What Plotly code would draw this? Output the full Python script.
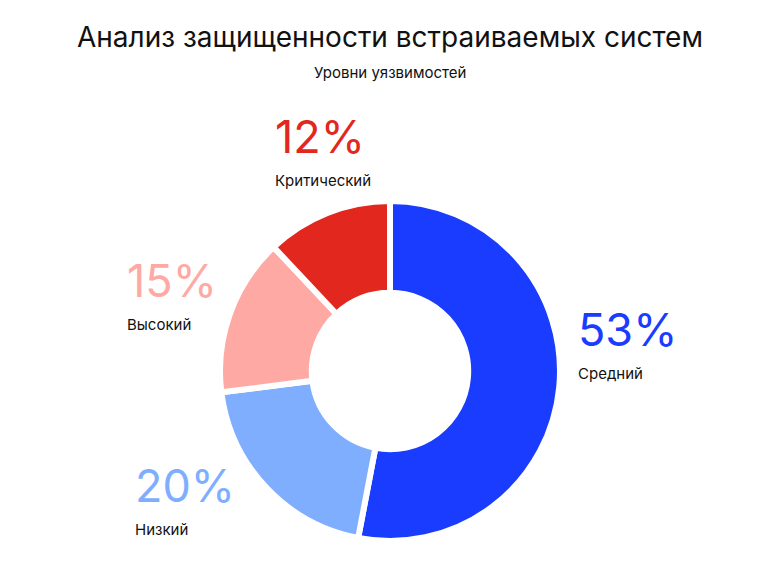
import plotly.graph_objects as go

# ---- data ----
categories = ["Средний", "Низкий", "Высокий", "Критический"]
values = [53, 20, 15, 12]
colors = ["#1a3cff", "#80aeff", "#ffa9a4", "#e2281e"]

title_text = "Анализ защищенности встраиваемых систем"
subtitle_text = "Уровни уязвимостей"

# ---- layout constants (pixels in a 780x576 canvas) ----
W, H = 780, 576
FONT = "Inter"
M_T, M_B = 201, 35
PLOT_H = H - M_T - M_B
# label block anchor: left x, vertical centre of percent glyphs
label_pos = {
    "Средний": (577, 329),
    "Низкий": (134, 485),
    "Высокий": (126, 280),
    "Критический": (274, 136),
}
NAME_DY = 44

def px(x):
    return x / W

def py(y):
    return (H - M_B - y) / PLOT_H

total = sum(values)
fig = go.Figure(
    go.Pie(
        labels=categories,
        values=values,
        marker=dict(colors=colors, line=dict(color="white", width=6)),
        hole=0.46,
        sort=False,
        direction="clockwise",
        rotation=0,
        textinfo="none",
        hoverinfo="label+percent",
        showlegend=False,
    )
)

annotations = [
    dict(text=subtitle_text, x=0.5, y=py(72), xref="paper", yref="paper",
         xanchor="center", yanchor="middle", showarrow=False,
         font=dict(family=FONT, size=15, color="#111111")),
]
for cat, val, col in zip(categories, values, colors):
    x, y = label_pos[cat]
    pct = round(val / total * 100)
    annotations.append(dict(
        text=f"{pct}%", x=px(x), y=py(y), xref="paper", yref="paper",
        xanchor="left", yanchor="middle", showarrow=False, borderpad=0,
        font=dict(family=FONT, size=45, color=col)))
    annotations.append(dict(
        text=cat, x=px(x), y=py(y + NAME_DY), xref="paper", yref="paper",
        xanchor="left", yanchor="middle", showarrow=False, borderpad=0,
        font=dict(family=FONT, size=15, color="#111111")))

fig.update_layout(
    width=W, height=H,
    paper_bgcolor="white", plot_bgcolor="white",
    margin=dict(l=0, r=0, t=M_T, b=M_B, autoexpand=False),
    title=dict(text=title_text, x=0.5, xanchor="center", y=1 - 37 / H,
               yref="container", yanchor="middle",
               font=dict(family=FONT, size=28, color="#111111")),
    annotations=annotations,
)

fig.write_html(
    "out.html",
    config={"displayModeBar": False},
    post_script="document.body.style.margin='0';document.body.style.overflow='hidden';",
)
